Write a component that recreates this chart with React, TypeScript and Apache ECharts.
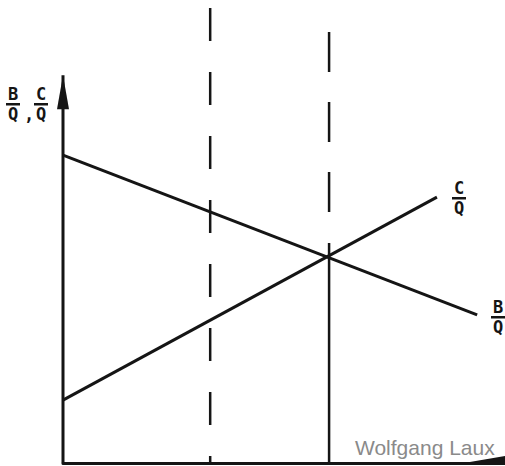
import React, { useEffect, useRef } from "react";
import * as echarts from "echarts";

// Diagram data (x: 0..100 along the horizontal axis, y: 0..120 along the vertical)
const benefitLine: number[][] = [[0, 79.8], [93.7, 38.4]]; // B/Q
const costLine: number[][] = [[0, 16.3], [84.6, 68.9]]; // C/Q
const dashedLeft: number[][] = [[33.3, 117.9], [33.3, 0]];
const dashedRight: number[][] = [[60.2, 111.7], [60.2, 60]];
const solidRight: number[][] = [[60.2, 57], [60.2, 0]];
const yAxisShaft: number[][] = [[0, 0], [0, 100.5]];

const INK = "#151515";
const LABEL_FONT = "DejaVu Sans Mono";

function fraction(num: string, den: string, left: number, top: number, w: number) {
  return {
    type: "group",
    x: left,
    y: top,
    children: [
      {
        type: "text",
        style: {
          text: num,
          x: w / 2,
          y: 0,
          align: "center",
          verticalAlign: "top",
          font: `bold 17px "${LABEL_FONT}"`,
          fill: INK,
        },
      },
      {
        type: "rect",
        shape: { x: 0, y: 18, width: w, height: 2.5 },
        style: { fill: INK },
      },
      {
        type: "text",
        style: {
          text: den,
          x: w / 2,
          y: 20,
          align: "center",
          verticalAlign: "top",
          font: `bold 17px "${LABEL_FONT}"`,
          fill: INK,
        },
      },
    ],
  };
}

export default function App() {
  const ref = useRef<HTMLDivElement>(null);

  useEffect(() => {
    if (!ref.current) return;
    const chart = echarts.init(ref.current, undefined, { renderer: "svg" });
    chart.setOption({
      animation: false,
      backgroundColor: "#ffffff",
      grid: { left: 63, right: 0, top: 0, bottom: 3, containLabel: false },
      xAxis: {
        type: "value",
        min: 0,
        max: 100,
        axisLine: { show: true, lineStyle: { color: INK, width: 3 } },
        axisTick: { show: false },
        axisLabel: { show: false },
        splitLine: { show: false },
      },
      yAxis: {
        type: "value",
        min: 0,
        max: 120,
        axisLine: { show: false },
        axisTick: { show: false },
        axisLabel: { show: false },
        splitLine: { show: false },
      },
      series: [
        {
          name: "y axis",
          type: "line",
          data: yAxisShaft,
          showSymbol: true,
          symbol: (_v: any, p: any) => (p.dataIndex === 1 ? "triangle" : "none"),
          symbolSize: [12, 34],
          symbolOffset: [0, 17],
          itemStyle: { color: INK },
          lineStyle: { color: INK, width: 3 },
          silent: true,
        },
        {
          name: "B/Q",
          type: "line",
          data: benefitLine,
          showSymbol: false,
          lineStyle: { color: INK, width: 3 },
        },
        {
          name: "C/Q",
          type: "line",
          data: costLine,
          showSymbol: false,
          lineStyle: { color: INK, width: 3 },
        },
        {
          name: "dashed left",
          type: "line",
          data: dashedLeft,
          showSymbol: false,
          lineStyle: { color: INK, width: 2.5, type: [33, 31] },
        },
        {
          name: "dashed right",
          type: "line",
          data: dashedRight,
          showSymbol: false,
          lineStyle: { color: INK, width: 2.5, type: [40, 30] },
        },
        {
          name: "solid right",
          type: "line",
          data: solidRight,
          showSymbol: false,
          lineStyle: { color: INK, width: 2.5 },
        },
      ],
      graphic: [
        // x-axis arrow head wedge (cut by the right edge)
        {
          type: "polygon",
          shape: { points: [[464, 463], [505, 456], [505, 464]] },
          style: { fill: INK },
        },
        fraction("B", "Q", 6, 85, 14),
        {
          type: "text",
          style: {
            text: ",",
            x: 29,
            y: 106,
            align: "center",
            verticalAlign: "top",
            font: `bold 17px "${LABEL_FONT}"`,
            fill: INK,
          },
        },
        fraction("C", "Q", 34, 85, 14),
        fraction("C", "Q", 452, 179, 14),
        fraction("B", "Q", 491, 298, 14),
        {
          type: "text",
          style: {
            text: "Wolfgang Laux",
            x: 355,
            y: 437,
            verticalAlign: "top",
            font: '21px "Liberation Sans"',
            fill: "#8a8a8a",
          },
        },
      ],
    });
    return () => chart.dispose();
  }, []);

  return (
    <div
      ref={ref}
      style={{ position: "absolute", left: 0, top: 0, width: 505, height: 466 }}
    />
  );
}
